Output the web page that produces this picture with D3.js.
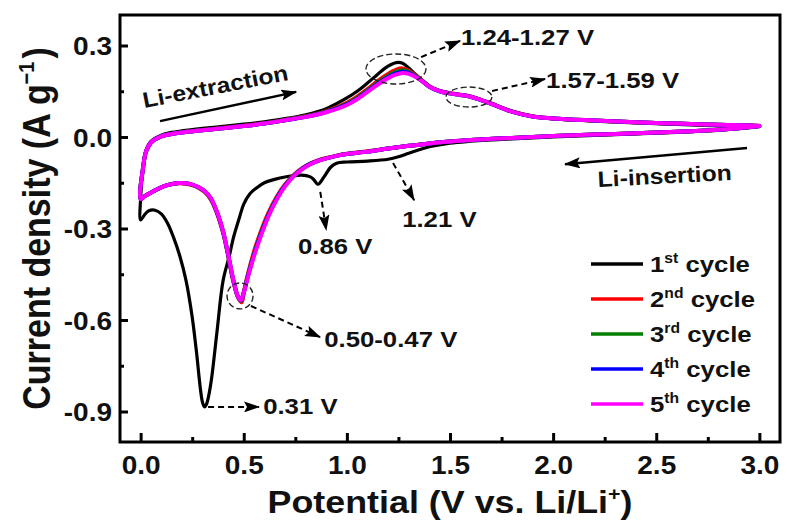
<!DOCTYPE html>
<html>
<head>
<meta charset="UTF-8">
<title>CV curves</title>
<style>
  body { margin: 0; background: #fff; }
  svg { display: block; }
  text { font-family: 'Liberation Sans', Arial, Helvetica, sans-serif; font-weight: bold; fill: #111; }
  .frame { fill: none; stroke: #000; stroke-width: 3; }
  .axis line { stroke: #000; stroke-width: 3; }
  .axis path { display: none; }
  .cv { fill: none; stroke-linejoin: round; stroke-linecap: round; }
  .dash { fill: none; stroke: #000; stroke-width: 2; stroke-dasharray: 6,4; }
  .ring { fill: none; stroke: #222; stroke-width: 1.4; stroke-dasharray: 6,3; }
  .solid { fill: none; stroke: #000; stroke-width: 2.5; }
</style>
</head>
<body>
<script src="https://d3js.org/d3.v7.min.js"></script>
<script>
// ---- data (potential V, current density A/g), cathodic sweep 3.0 -> 0 then anodic 0 -> 3.0
var cycle1 = [[3.0,0.034],[2.9,0.027],[2.8,0.022],[2.6,0.015],[2.4,0.01],[2.2,0.005],[2.0,0.0],[1.8,-0.006],[1.6,-0.014],[1.5,-0.02],[1.4,-0.032],[1.35,-0.042],[1.3,-0.053],[1.25,-0.065],[1.2,-0.073],[1.1,-0.079],[1.0,-0.082],[0.95,-0.086],[0.92,-0.1],[0.89,-0.13],[0.86,-0.155],[0.84,-0.14],[0.82,-0.13],[0.78,-0.125],[0.74,-0.127],[0.7,-0.131],[0.65,-0.139],[0.6,-0.15],[0.56,-0.168],[0.53,-0.186],[0.5,-0.22],[0.48,-0.262],[0.45,-0.33],[0.43,-0.39],[0.4,-0.47],[0.37,-0.64],[0.34,-0.81],[0.32,-0.875],[0.31,-0.885],[0.3,-0.87],[0.27,-0.7],[0.25,-0.59],[0.22,-0.47],[0.19,-0.39],[0.16,-0.33],[0.13,-0.282],[0.1,-0.252],[0.07,-0.24],[0.04,-0.242],[0.02,-0.254],[0.0,-0.272],
  [0.0,-0.2],[0.012,-0.1],[0.026,-0.046],[0.05,-0.014],[0.1,0.006],[0.15,0.015],[0.2,0.02],[0.3,0.028],[0.4,0.035],[0.5,0.042],[0.6,0.05],[0.7,0.06],[0.8,0.073],[0.9,0.093],[1.0,0.128],[1.05,0.15],[1.1,0.177],[1.15,0.206],[1.2,0.232],[1.24,0.244],[1.27,0.242],[1.3,0.226],[1.35,0.195],[1.4,0.168],[1.45,0.151],[1.5,0.144],[1.55,0.139],[1.6,0.133],[1.65,0.122],[1.7,0.11],[1.8,0.085],[1.9,0.068],[2.0,0.06],[2.2,0.052],[2.4,0.046],[2.6,0.041],[2.8,0.036],[2.95,0.033],[3.0,0.034]];

var cycle2 = [[3.0,0.037],[2.9,0.03],[2.8,0.024],[2.6,0.017],[2.4,0.012],[2.2,0.008],[2.0,0.003],[1.8,-0.003],[1.6,-0.01],[1.5,-0.015],[1.4,-0.021],[1.3,-0.029],[1.2,-0.038],[1.1,-0.047],[1.0,-0.055],[0.95,-0.061],[0.9,-0.069],[0.86,-0.077],[0.82,-0.088],[0.78,-0.104],[0.74,-0.126],[0.7,-0.156],[0.66,-0.196],[0.62,-0.248],[0.58,-0.315],[0.55,-0.375],[0.52,-0.45],[0.5,-0.51],[0.49,-0.542],[0.475,-0.53],[0.45,-0.475],[0.42,-0.375],[0.4,-0.315],[0.37,-0.25],[0.34,-0.205],[0.31,-0.18],[0.28,-0.166],[0.25,-0.158],[0.22,-0.153],[0.19,-0.152],[0.16,-0.153],[0.13,-0.158],[0.1,-0.165],[0.07,-0.175],[0.04,-0.186],[0.02,-0.194],[0.0,-0.203],
  [0.012,-0.1],[0.026,-0.048],[0.05,-0.018],[0.1,0.002],[0.15,0.01],[0.2,0.016],[0.3,0.023],[0.4,0.03],[0.5,0.037],[0.6,0.045],[0.7,0.056],[0.8,0.068],[0.9,0.085],[1.0,0.112],[1.05,0.132],[1.1,0.157],[1.15,0.184],[1.2,0.207],[1.24,0.221],[1.27,0.225],[1.3,0.217],[1.35,0.194],[1.4,0.166],[1.45,0.151],[1.5,0.144],[1.55,0.139],[1.6,0.133],[1.65,0.122],[1.7,0.11],[1.8,0.084],[1.9,0.068],[2.0,0.061],[2.2,0.054],[2.4,0.048],[2.6,0.044],[2.8,0.04],[2.95,0.038],[3.0,0.037]];

var cycle3 = [[3.0,0.036],[2.9,0.029],[2.8,0.024],[2.6,0.017],[2.4,0.012],[2.2,0.008],[2.0,0.003],[1.8,-0.003],[1.6,-0.01],[1.5,-0.015],[1.4,-0.021],[1.3,-0.029],[1.2,-0.038],[1.1,-0.048],[1.0,-0.056],[0.95,-0.062],[0.9,-0.07],[0.86,-0.078],[0.82,-0.089],[0.78,-0.105],[0.74,-0.128],[0.7,-0.159],[0.66,-0.2],[0.62,-0.254],[0.58,-0.322],[0.55,-0.383],[0.52,-0.455],[0.5,-0.51],[0.487,-0.538],[0.472,-0.525],[0.45,-0.472],[0.42,-0.372],[0.4,-0.312],[0.37,-0.247],[0.34,-0.202],[0.31,-0.178],[0.28,-0.165],[0.25,-0.157],[0.22,-0.152],[0.19,-0.151],[0.16,-0.153],[0.13,-0.158],[0.1,-0.165],[0.07,-0.175],[0.04,-0.186],[0.02,-0.194],[0.0,-0.203],
  [0.012,-0.1],[0.026,-0.048],[0.05,-0.018],[0.1,0.002],[0.15,0.01],[0.2,0.015],[0.3,0.022],[0.4,0.029],[0.5,0.036],[0.6,0.044],[0.7,0.055],[0.8,0.067],[0.9,0.083],[1.0,0.109],[1.05,0.128],[1.1,0.153],[1.15,0.178],[1.2,0.2],[1.24,0.214],[1.27,0.219],[1.3,0.213],[1.35,0.192],[1.4,0.165],[1.45,0.15],[1.5,0.143],[1.55,0.138],[1.6,0.132],[1.65,0.121],[1.7,0.109],[1.8,0.083],[1.9,0.067],[2.0,0.061],[2.2,0.054],[2.4,0.048],[2.6,0.044],[2.8,0.04],[2.95,0.038],[3.0,0.036]];

var cycle4 = [[3.0,0.036],[2.9,0.029],[2.8,0.024],[2.6,0.017],[2.4,0.012],[2.2,0.008],[2.0,0.003],[1.8,-0.003],[1.6,-0.01],[1.5,-0.015],[1.4,-0.021],[1.3,-0.029],[1.2,-0.038],[1.1,-0.048],[1.0,-0.056],[0.95,-0.062],[0.9,-0.07],[0.86,-0.078],[0.82,-0.089],[0.78,-0.106],[0.74,-0.129],[0.7,-0.16],[0.66,-0.202],[0.62,-0.257],[0.58,-0.326],[0.55,-0.386],[0.52,-0.457],[0.5,-0.51],[0.486,-0.536],[0.471,-0.522],[0.45,-0.471],[0.42,-0.371],[0.4,-0.311],[0.37,-0.246],[0.34,-0.201],[0.31,-0.177],[0.28,-0.164],[0.25,-0.156],[0.22,-0.152],[0.19,-0.151],[0.16,-0.153],[0.13,-0.158],[0.1,-0.165],[0.07,-0.175],[0.04,-0.186],[0.02,-0.194],[0.0,-0.203],
  [0.012,-0.1],[0.026,-0.048],[0.05,-0.018],[0.1,0.002],[0.15,0.01],[0.2,0.015],[0.3,0.022],[0.4,0.029],[0.5,0.036],[0.6,0.044],[0.7,0.055],[0.8,0.066],[0.9,0.082],[1.0,0.107],[1.05,0.126],[1.1,0.15],[1.15,0.175],[1.2,0.196],[1.24,0.209],[1.27,0.214],[1.3,0.21],[1.35,0.191],[1.4,0.165],[1.45,0.15],[1.5,0.143],[1.55,0.138],[1.6,0.132],[1.65,0.121],[1.7,0.109],[1.8,0.083],[1.9,0.067],[2.0,0.061],[2.2,0.054],[2.4,0.048],[2.6,0.044],[2.8,0.04],[2.95,0.038],[3.0,0.036]];

var cycle5 = [[3.0,0.036],[2.9,0.029],[2.8,0.024],[2.6,0.017],[2.4,0.012],[2.2,0.008],[2.0,0.003],[1.8,-0.003],[1.6,-0.01],[1.5,-0.015],[1.4,-0.021],[1.3,-0.029],[1.2,-0.038],[1.1,-0.048],[1.0,-0.056],[0.95,-0.062],[0.9,-0.07],[0.86,-0.078],[0.82,-0.09],[0.78,-0.107],[0.74,-0.13],[0.7,-0.162],[0.66,-0.205],[0.62,-0.26],[0.58,-0.33],[0.55,-0.39],[0.52,-0.46],[0.5,-0.51],[0.485,-0.535],[0.47,-0.52],[0.45,-0.47],[0.42,-0.37],[0.4,-0.31],[0.37,-0.245],[0.34,-0.2],[0.31,-0.177],[0.28,-0.164],[0.25,-0.156],[0.22,-0.152],[0.19,-0.151],[0.16,-0.153],[0.13,-0.158],[0.1,-0.165],[0.07,-0.175],[0.04,-0.186],[0.02,-0.194],[0.0,-0.203],
  [0.012,-0.1],[0.026,-0.048],[0.05,-0.018],[0.1,0.002],[0.15,0.01],[0.2,0.015],[0.3,0.022],[0.4,0.029],[0.5,0.036],[0.6,0.044],[0.7,0.055],[0.8,0.066],[0.9,0.081],[1.0,0.105],[1.05,0.124],[1.1,0.148],[1.15,0.172],[1.2,0.193],[1.24,0.205],[1.27,0.21],[1.3,0.207],[1.35,0.19],[1.4,0.165],[1.45,0.15],[1.5,0.143],[1.55,0.138],[1.6,0.132],[1.65,0.121],[1.7,0.109],[1.8,0.083],[1.9,0.067],[2.0,0.061],[2.2,0.054],[2.4,0.048],[2.6,0.044],[2.8,0.04],[2.95,0.038],[3.0,0.036]];

var cycles = [cycle1, cycle2, cycle3, cycle4, cycle5];
var cycleColors = ["#000000", "#ff0000", "#008000", "#0000ff", "#ff00ff"];
var cycleNums = ["1", "2", "3", "4", "5"];
var cycleSups = ["st", "nd", "rd", "th", "th"];

var xTicks = [0, 0.5, 1.0, 1.5, 2.0, 2.5, 3.0];
var xMinor = [0.25, 0.75, 1.25, 1.75, 2.25, 2.75];
var yTicks = [0.3, 0.0, -0.3, -0.6, -0.9];
var yMinor = [0.15, -0.15, -0.45, -0.75];

// peak callouts, in data units
var callouts = [
  {text: "1.24-1.27 V", ring: [1.238, 0.223, 30, 15], from: [1.36, 0.262], to: [1.549, 0.315], at: [1.553, 0.303]},
  {text: "1.57-1.59 V", ring: [1.592, 0.131, 23, 10], from: [1.704, 0.151], to: [1.961, 0.19], at: [1.966, 0.161]},
  {text: "1.21 V", from: [1.224, -0.085], to: [1.326, -0.207], at: [1.268, -0.295]},
  {text: "0.86 V", from: [0.871, -0.18], to: [0.9, -0.305], at: [0.763, -0.384]},
  {text: "0.50-0.47 V", ring: [0.482, -0.521, 13, 13], from: [0.535, -0.554], to: [0.87, -0.656], at: [0.89, -0.689]},
  {text: "0.31 V", from: [0.327, -0.885], to: [0.574, -0.885], at: [0.594, -0.908]}
];

// ---- layout
var W = 787, H = 522;
var margin = {top: 15, right: 7, bottom: 80, left: 120};
var width = W - margin.left - margin.right,
    height = H - margin.top - margin.bottom;
var SX = 1.12; // glyphs in the figure are a bit wide

var x = d3.scaleLinear().domain([-0.1, 3.1]).range([0, width]);
var y = d3.scaleLinear().domain([-1.0, 0.4]).range([height, 0]);

var svg = d3.select("body").append("svg")
    .attr("width", W).attr("height", H);

var defs = svg.append("defs");
defs.append("marker")
    .attr("id", "head")
    .attr("markerUnits", "userSpaceOnUse")
    .attr("markerWidth", 16).attr("markerHeight", 11)
    .attr("refX", 15).attr("refY", 5.5)
    .attr("orient", "auto")
    .append("path").attr("d", "M0,0 L16,5.5 L0,11 L3,5.5 Z").attr("fill", "#000");

var g = svg.append("g")
    .attr("transform", "translate(" + margin.left + "," + margin.top + ")");

// curves
var line = d3.line()
    .x(function(d) { return x(d[0]); })
    .y(function(d) { return y(d[1]); })
    .curve(d3.curveCatmullRom.alpha(0.5));

g.selectAll("path.cv")
    .data(cycles)
    .enter().append("path")
    .attr("class", "cv")
    .attr("d", line)
    .attr("stroke", function(d, i) { return cycleColors[i]; })
    .attr("stroke-width", function(d, i) { return i == 0 ? 3.2 : 4; });

// axes
var fmt = function(v) { return v.toFixed(1); };

var xAx = g.append("g").attr("class", "axis")
    .attr("transform", "translate(0," + height + ")")
    .call(d3.axisBottom(x).tickValues(xTicks).tickSize(-9).tickFormat(fmt));
xAx.selectAll("text")
    .attr("y", 0).attr("dy", 0)
    .attr("transform", "translate(0,32) scale(" + SX + ",1)")
    .style("font-size", "25px").style("fill", "#111");
g.append("g").attr("class", "axis")
    .attr("transform", "translate(0," + height + ")")
    .call(d3.axisBottom(x).tickValues(xMinor).tickSize(-5).tickFormat(""));

var yAx = g.append("g").attr("class", "axis")
    .call(d3.axisLeft(y).tickValues(yTicks).tickSize(-8).tickFormat(fmt));
yAx.selectAll("text")
    .attr("x", 0).attr("dy", "0.36em")
    .attr("transform", "translate(-8,0) scale(" + SX + ",1)")
    .style("font-size", "25px").style("fill", "#111");
g.append("g").attr("class", "axis")
    .call(d3.axisLeft(y).tickValues(yMinor).tickSize(-4).tickFormat(""));

g.append("rect").attr("class", "frame")
    .attr("width", width).attr("height", height);

// axis titles
var xt = svg.append("text")
    .attr("transform", "translate(" + (margin.left + width / 2) + ",513) scale(" + SX + ",1)")
    .attr("text-anchor", "middle")
    .style("font-size", "32px");
xt.append("tspan").text("Potential (V vs. Li/Li");
xt.append("tspan").text("+").style("font-size", "19px").attr("dy", -13);
xt.append("tspan").text(")").attr("dy", 13);

var yt = svg.append("text")
    .attr("transform", "translate(50," + (margin.top + height / 2) + ") rotate(-90) scale(1," + SX + ")")
    .attr("text-anchor", "middle")
    .style("font-size", "34px");
yt.append("tspan").text("Current density (A g");
yt.append("tspan").text("\u22121").style("font-size", "20px").attr("dy", -14);
yt.append("tspan").text(")").attr("dx", 3).attr("dy", 14);

// legend
var leg = g.append("g").attr("class", "legend")
    .attr("transform", "translate(471,249)");
var rows = leg.selectAll("g").data(cycleNums).enter().append("g")
    .attr("transform", function(d, i) { return "translate(0," + (i * 35) + ")"; });
rows.append("line")
    .attr("x1", 0).attr("x2", 52)
    .attr("stroke", function(d, i) { return cycleColors[i]; })
    .attr("stroke-width", 3.5);
var lt = rows.append("text")
    .attr("transform", "translate(59,8) scale(" + SX + ",1)")
    .style("font-size", "23px");
lt.append("tspan").text(function(d) { return d; });
lt.append("tspan").text(function(d, i) { return cycleSups[i]; })
    .style("font-size", "14px").attr("dy", -9);
lt.append("tspan").text(" cycle").attr("dy", 9);

// callouts
var co = g.append("g").attr("class", "callouts");
callouts.forEach(function(c) {
  if (c.ring) {
    co.append("ellipse").attr("class", "ring")
      .attr("cx", x(c.ring[0])).attr("cy", y(c.ring[1]))
      .attr("rx", c.ring[2]).attr("ry", c.ring[3]);
  }
  co.append("line").attr("class", "dash")
    .attr("x1", x(c.from[0])).attr("y1", y(c.from[1]))
    .attr("x2", x(c.to[0])).attr("y2", y(c.to[1]))
    .attr("marker-end", "url(#head)");
  co.append("text")
    .attr("transform", "translate(" + x(c.at[0]) + "," + y(c.at[1]) + ") scale(" + SX + ",1)")
    .style("font-size", "23px")
    .text(c.text);
});

// sweep direction arrows
var sweeps = [
  {text: "Li-extraction", from: [0.094, 0.052], to: [0.754, 0.148], at: [0.017, 0.095], angle: -11},
  {text: "Li-insertion", from: [2.94, -0.036], to: [2.058, -0.089], at: [2.218, -0.164], angle: -3}
];
sweeps.forEach(function(s) {
  co.append("line").attr("class", "solid")
    .attr("x1", x(s.from[0])).attr("y1", y(s.from[1]))
    .attr("x2", x(s.to[0])).attr("y2", y(s.to[1]))
    .attr("marker-end", "url(#head)");
  co.append("text")
    .attr("transform", "translate(" + x(s.at[0]) + "," + y(s.at[1]) + ") rotate(" + s.angle + ") scale(" + SX + ",1)")
    .style("font-size", "22px")
    .text(s.text);
});
</script>
</body>
</html>
